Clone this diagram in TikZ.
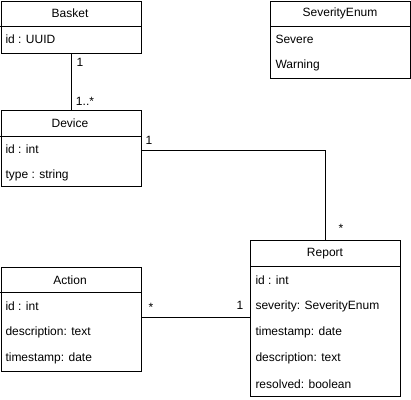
\documentclass[tikz,border=0pt]{standalone}
\usepackage{fontspec}
\setmainfont{Liberation Sans}
\begin{document}
\begin{tikzpicture}[x=0.75pt,y=-0.75pt,line width=0.75pt,
  box/.style={draw,anchor=north west,inner sep=0pt,minimum width=105pt},
  ttl/.style={font=\fontsize{9}{11}\selectfont},
  row/.style={font=\fontsize{9}{11}\selectfont,anchor=west,inner sep=0pt},
  lbl/.style={font=\fontsize{9}{11}\selectfont,inner sep=0pt}]
\useasboundingbox (0,0) rectangle (411,400);
% Basket
\node[box,minimum height=39pt] (basket) at (0.5,0.5) {};
\draw ([yshift=-19.5pt]basket.north west) -- ([yshift=-19.5pt]basket.north east);
\node[ttl] (basketT) at (70,13) {Basket};
\node[row] (basketR1) at (5,39) {id : UUID};
% SeverityEnum
\node[box,minimum height=58pt] (sev) at (270,0.5) {};
\draw ([yshift=-19.5pt]sev.north west) -- ([yshift=-19.5pt]sev.north east);
\node[ttl] (sevT) at (340,13) {SeverityEnum};
\node[row] (sevR1) at (275,39.5) {Severe};
\node[row] (sevR2) at (275,65.5) {Warning};
% Device
\node[box,minimum height=57pt] (device) at (0.5,110) {};
\draw ([yshift=-19.5pt]device.north west) -- ([yshift=-19.5pt]device.north east);
\node[ttl] (deviceT) at (70,123) {Device};
\node[row] (deviceR1) at (5,149.5) {id : int};
\node[row] (deviceR2) at (5,175.5) {type : string};
% Action
\node[box,minimum height=78pt] (action) at (0.5,266.5) {};
\draw ([yshift=-19.5pt]action.north west) -- ([yshift=-19.5pt]action.north east);
\node[ttl] (actionT) at (70,280) {Action};
\node[row] (actionR1) at (5,306) {id : int};
\node[row] (actionR2) at (5,332) {description: text};
\node[row] (actionR3) at (5,358) {timestamp: date};
% Report
\node[box,minimum width=112.5pt,minimum height=117pt] (report) at (250,240) {};
\draw ([yshift=-19.5pt]report.north west) -- ([yshift=-19.5pt]report.north east);
\node[ttl] (reportT) at (325,253.5) {Report};
\node[row] (reportR1) at (255,280) {id : int};
\node[row] (reportR2) at (255,306) {severity: SeverityEnum};
\node[row] (reportR3) at (255,332) {timestamp: date};
\node[row] (reportR4) at (255,358) {description: text};
\node[row] (reportR5) at (255,384) {resolved: boolean};
% connectors
\draw (basket.south) -- (device.north);
\node[lbl] (l1) at (80,62) {1};
\node[lbl] (l2) at (85,101) {1..*};
\coordinate (dv) at ([yshift=-30pt]device.north east);
\draw (dv) -| (report.north);
\node[lbl] (l3) at (149,140) {1};
\node[lbl] (l4) at (341,228) {*};
\coordinate (ac) at ([yshift=-38.25pt]action.north east);
\draw (ac) -- (ac -| report.west);
\node[lbl] (l5) at (151,307) {*};
\node[lbl] (l6) at (240,305) {1};
\end{tikzpicture}
\end{document}
